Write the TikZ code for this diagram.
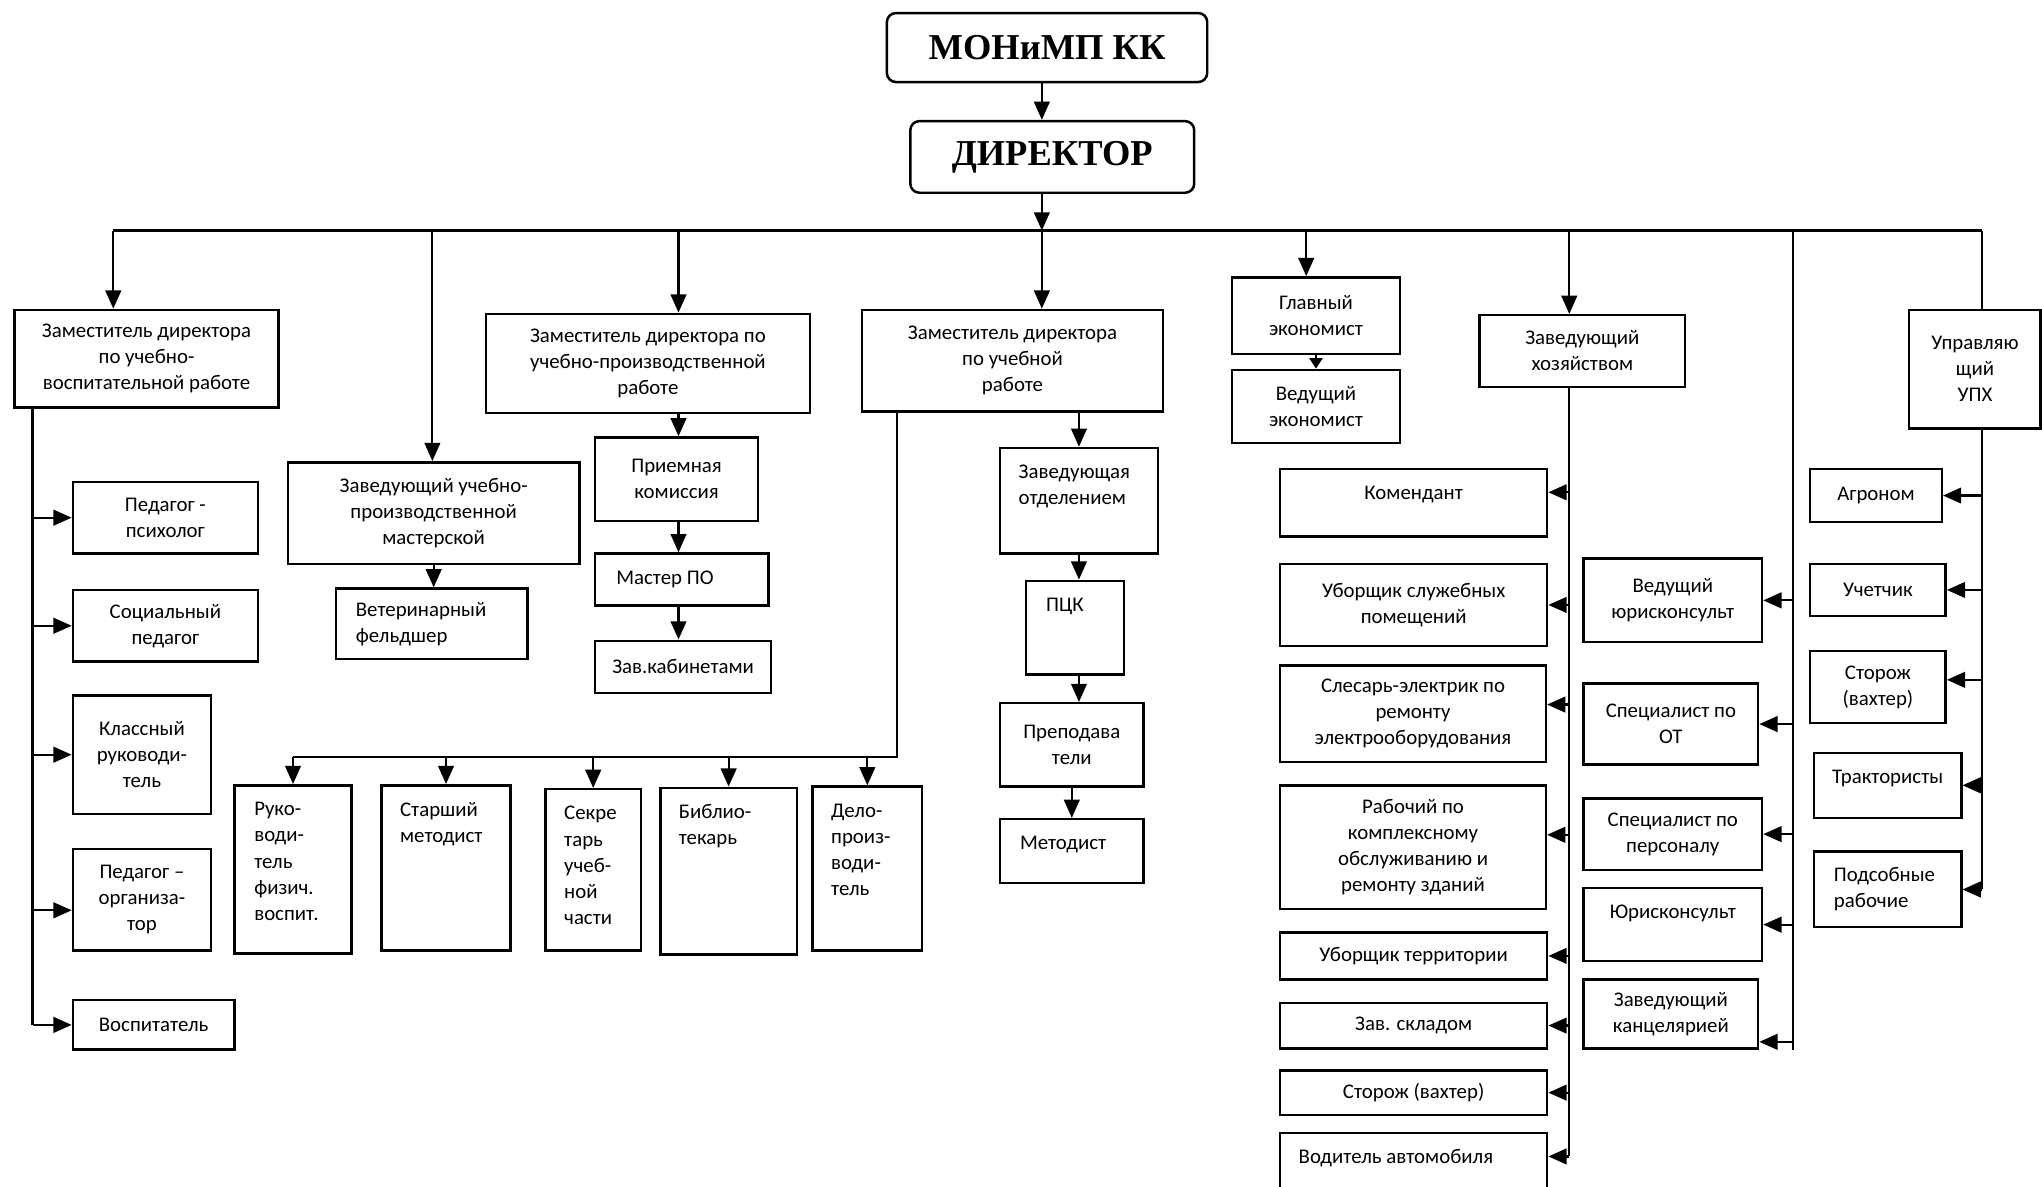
\documentclass[tikz,border=0pt]{standalone}
\usepackage{fontspec}
\setmainfont{Carlito}
\newfontfamily\titlefont{Liberation Serif}
\usetikzlibrary{arrows.meta,positioning}

\begin{document}
\begin{tikzpicture}[x=1pt,y=-1pt,
  sz/.style 2 args={minimum width=#1pt,minimum height=#2pt},
  box/.style={draw,line width=1.9pt,inner sep=0pt,align=center,
    font=\fontsize{16}{20}\selectfont},
  headbox/.style={box,rounded corners=7pt,
    font=\titlefont\bfseries\fontsize{28}{32}\selectfont},
  txt/.style={inner sep=0pt,align=left,font=\fontsize{16}{20}\selectfont},
  link/.style={line width=1.7pt},
  arr/.style={link,-{Triangle[length=14pt,width=12pt]}}]
  \useasboundingbox (0,0) rectangle (1568,911);

  % top
  \node[headbox,sz={246}{53}] (mon) at (804,36.5) {МОНиМП КК};
  \node[headbox,sz={218}{55}] (dir) at (808,120.5) {ДИРЕКТОР};

  % deputies and heads
  \node[box,sz={203}{75}] (zvr) at (112.5,275.5) {Заместитель директора\\по учебно-\\воспитательной работе};
  \node[box,sz={224}{78}] (zmast) at (333,394) {Заведующий учебно-\\производственной\\мастерской};
  \node[box,sz={249}{76}] (zpr) at (497.5,279) {Заместитель директора по\\учебно-производственной\\работе};
  \node[box,sz={231}{78}] (zur) at (777.5,277) {Заместитель директора\\по учебной\\работе};
  \node[box,sz={129}{59}] (glek) at (1010.5,242.5) {Главный\\экономист};
  \node[box,sz={129}{56}] (vedek) at (1010.5,312) {Ведущий\\экономист};
  \node[box,sz={158}{55}] (zhoz) at (1215,269.5) {Заведующий\\хозяйством};
  \node[box,sz={101}{91}] (upx) at (1516.5,283.5) {Управляю\\щий\\УПХ};

  % left column
  \node[box,sz={142}{55}] (psy) at (127,397.5) {Педагог -\\психолог};
  \node[box,sz={142}{55}] (soc) at (127,480.5) {Социальный\\педагог};
  \node[box,sz={106}{91}] (kl) at (109,579.5) {Классный\\руководи-\\тель};
  \node[box,sz={106}{78}] (org) at (109,691) {Педагог –\\организа-\\тор};
  \node[box,sz={124}{38}] (vosp) at (118,787) {Воспитатель};

  % workshop
  \node[box,sz={147}{54}] (vet) at (331.5,479) {};
  \node[txt,right=16pt of vet.west] (vet-t) {Ветеринарный\\фельдшер};

  % production
  \node[box,sz={125}{64}] (priem) at (519.5,368) {Приемная\\комиссия};
  \node[box,sz={133}{40}] (master) at (523.5,445) {};
  \node[txt,right=17pt of master.west] (master-t) {Мастер ПО};
  \node[box,sz={135}{40}] (zavkab) at (524.5,512) {Зав.кабинетами};

  % study part
  \node[box,sz={121}{81}] (zavotd) at (828.5,384.5) {};
  \node[txt,below right=14pt and 15pt of zavotd.north west] (zavotd-t) {Заведующая\\отделением};
  \node[box,sz={75}{72}] (pck) at (825.5,482) {};
  \node[txt,below right=14pt and 16pt of pck.north west] (pck-t) {ПЦК};
  \node[box,sz={110}{64}] (prep) at (823,572) {Преподава\\тели};
  \node[box,sz={110}{49}] (met) at (823,653.5) {};
  \node[txt,below right=14pt and 16pt of met.north west] (met-t) {Методист};

  % bottom row
  \node[box,sz={90}{129}] (ruk) at (225,667.5) {};
  \node[txt,below right=14pt and 16pt of ruk.north west] (ruk-t) {Руко-\\води-\\тель\\физич.\\воспит.};
  \node[box,sz={99}{127}] (star) at (342.5,666.5) {};
  \node[txt,below right=14pt and 15pt of star.north west] (star-t) {Старший\\методист};
  \node[box,sz={73}{124}] (sekr) at (455.5,668) {};
  \node[txt,below right=14pt and 15pt of sekr.north west] (sekr-t) {Секре\\тарь\\учеб-\\ной\\части};
  \node[box,sz={105}{128}] (bibl) at (559.5,669) {};
  \node[txt,below right=13pt and 15pt of bibl.north west] (bibl-t) {Библио-\\текарь};
  \node[box,sz={84}{126}] (delo) at (666,667) {};
  \node[txt,below right=14pt and 15pt of delo.north west] (delo-t) {Дело-\\произ-\\води-\\тель};

  % household
  \node[box,sz={205}{52}] (kom) at (1085.5,386) {};
  \node[txt,below=14pt of kom.north] (kom-t) {Комендант};
  \node[box,sz={205}{63}] (ubsl) at (1085.5,464.5) {Уборщик служебных\\помещений};
  \node[box,sz={204}{74}] (sles) at (1085,548) {Слесарь-электрик по\\ремонту\\электрооборудования};
  \node[box,sz={204}{95}] (rab) at (1085,650.5) {Рабочий по\\комплексному\\обслуживанию и\\ремонту зданий};
  \node[box,sz={205}{36}] (ubter) at (1085.5,734) {Уборщик территории};
  \node[box,sz={205}{35}] (sklad) at (1085.5,787.5) {Зав. складом};
  \node[box,sz={205}{34}] (storz) at (1085.5,839) {Сторож (вахтер)};
  \node[box,sz={205}{46}] (vod) at (1085.5,893) {};
  \node[txt,below right=13pt and 15pt of vod.north west] (vod-t) {Водитель автомобиля};

  % legal and office
  \node[box,sz={137}{64}] (vyur) at (1284.5,461) {Ведущий\\юрисконсульт};
  \node[box,sz={134}{62}] (spot) at (1283,556) {Специалист по\\ОТ};
  \node[box,sz={137}{55}] (spper) at (1284.5,640.5) {Специалист по\\персоналу};
  \node[box,sz={137}{56}] (yur) at (1284.5,710) {};
  \node[txt,below=14pt of yur.north] (yur-t) {Юрисконсульт};
  \node[box,sz={134}{53}] (kanc) at (1283,778.5) {Заведующий\\канцелярией};

  % farm
  \node[box,sz={101}{41}] (agr) at (1440.5,380.5) {Агроном};
  \node[box,sz={104}{40}] (uch) at (1442,453) {Учетчик};
  \node[box,sz={104}{55}] (stor2) at (1442,527.5) {Сторож\\(вахтер)};
  \node[box,sz={113}{50}] (trak) at (1449.5,603) {};
  \node[txt,below=14pt of trak.north] (trak-t) {Трактористы};
  \node[box,sz={113}{58}] (pods) at (1449.5,683) {};
  \node[txt,right=16pt of pods.west] (pods-t) {Подсобные\\рабочие};

  % bus
  \coordinate (b1) at (87,177);
  \coordinate (b2) at (332,177);
  \coordinate (b3) at (521,177);
  \coordinate (b4) at (800,177);
  \coordinate (b5) at (1003,177);
  \coordinate (b6) at (1205,177);
  \coordinate (b7) at (1377,177);
  \coordinate (b8) at (1522,177);
  \draw[arr] (b4 |- mon.south) -- (b4 |- dir.north);
  \draw[arr] (b4 |- dir.south) -- (b4);
  \draw[link] (b1) -- (b8);
  \draw[arr] (b1) -- (b1 |- zvr.north);
  \draw[arr] (b2) -- (b2 |- zmast.north);
  \draw[arr] (b3) -- (b3 |- zpr.north);
  \draw[arr] (b4) -- (b4 |- zur.north);
  \draw[arr] (b5) -- (b5 |- glek.north);
  \draw[arr] (b6) -- (b6 |- zhoz.north);
  \draw[link] (b7) -- (b7 |- kanc.south);
  \draw[link] (b8) -- (b8 |- upx.north);

  % left column
  \coordinate (lv) at (25,313);
  \draw[link] (lv |- zvr.south) -- (lv |- vosp);
  \draw[arr] (lv |- psy) -- (psy.west);
  \draw[arr] (lv |- soc) -- (soc.west);
  \draw[arr] (lv |- kl) -- (kl.west);
  \draw[arr] (lv |- 0,699) -- (org.west |- 0,699);
  \draw[arr] (lv |- vosp) -- (vosp.west);

  % workshop, production
  \draw[arr] (zmast.south) -- (zmast.south |- vet.north);
  \draw[arr] (b3 |- zpr.south) -- (b3 |- priem.north);
  \draw[arr] (b3 |- priem.south) -- (b3 |- master.north);
  \draw[arr] (b3 |- master.south) -- (b3 |- zavkab.north);

  % study part
  \draw[arr] (zavotd.north |- zur.south) -- (zavotd.north);
  \draw[arr] (zavotd.south) -- (zavotd.south |- pck.north);
  \draw[arr] (zavotd.south |- pck.south) -- (zavotd.south |- prep.north);
  \draw[arr] (prep) -- (met);
  \draw[link,-{Triangle[length=8pt,width=10pt]}] (glek.south) -- (vedek.north);

  \coordinate (zv) at (689,581);
  \draw[link] (zv |- zur.south) -- (zv) -- (zv -| ruk);
  \draw[arr] (zv -| ruk) -- (ruk.north);
  \draw[arr] (zv -| star) -- (star.north);
  \draw[arr] (zv -| sekr) -- (sekr.north);
  \draw[arr] (zv -| bibl) -- (bibl.north);
  \draw[arr] (zv -| delo) -- (delo.north);

  % household
  \draw[link] (b6 |- zhoz.south) -- (b6 |- 0,888);
  \draw[arr] (b6 |- 0,378) -- (kom.east |- 0,378);
  \draw[arr] (b6 |- ubsl) -- (ubsl.east);
  \draw[arr] (b6 |- 0,541) -- (sles.east |- 0,541);
  \draw[arr] (b6 |- 0,641) -- (rab.east |- 0,641);
  \draw[arr] (b6 |- ubter) -- (ubter.east);
  \draw[arr] (b6 |- sklad) -- (sklad.east);
  \draw[arr] (b6 |- storz) -- (storz.east);
  \draw[arr] (b6 |- 0,888) -- (vod.east |- 0,888);

  % legal and office
  \draw[arr] (b7 |- vyur) -- (vyur.east);
  \draw[arr] (b7 |- spot) -- (spot.east);
  \draw[arr] (b7 |- spper) -- (spper.east);
  \draw[arr] (b7 |- yur) -- (yur.east);
  \draw[arr] (b7 |- 0,800) -- (kanc.east |- 0,800);

  % farm
  \draw[link] (b8 |- upx.south) -- (b8 |- pods);
  \draw[arr] (b8 |- agr) -- (agr.east);
  \draw[arr] (b8 |- uch) -- (uch.east);
  \draw[arr] (b8 |- 0,522) -- (stor2.east |- 0,522);
  \draw[arr] (b8 |- trak) -- (trak.east);
  \draw[arr] (b8 |- pods) -- (pods.east);
\end{tikzpicture}
\end{document}
